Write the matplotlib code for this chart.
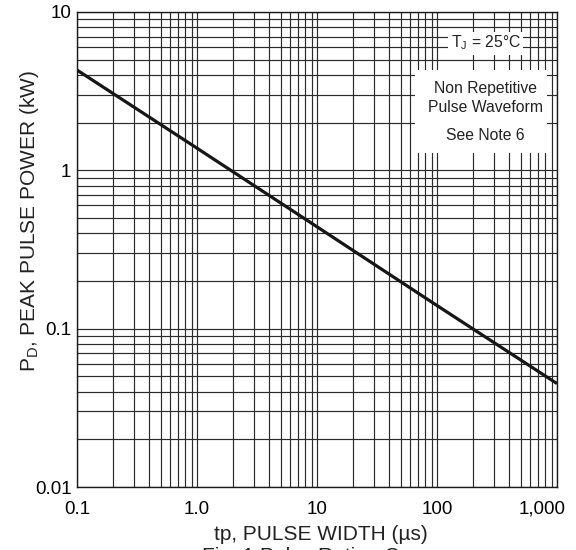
import matplotlib
matplotlib.use("Agg")
import matplotlib.pyplot as plt
import matplotlib.ticker as mticker
import matplotlib.transforms as mtransforms
from matplotlib.patches import Rectangle

plt.rcParams['font.family'] = ['Liberation Sans', 'DejaVu Sans']
plt.rcParams['mathtext.fontset'] = 'custom'
plt.rcParams['mathtext.rm'] = 'Liberation Sans'
plt.rcParams['mathtext.it'] = 'Liberation Sans'

# Pulse rating curve
pulse_width_us = [0.1, 1.0, 10, 100, 1000]
peak_power_kw = [4.3, 1.38, 0.44, 0.14, 0.045]

x_ticks = [0.1, 1.0, 10, 100, 1000]
x_tick_labels = ["0.1", "1.0", "10", "100", "1,000"]
y_ticks = [0.01, 0.1, 1, 10]
y_tick_labels = ["0.01", "0.1", "1", "10"]

grid_color = "#2b2b2b"

fig = plt.figure(figsize=(5.76, 5.5), dpi=100)
ax = fig.add_axes([77 / 576, 63 / 550, 480 / 576, 475 / 550])
ax.set_xscale('log')
ax.set_yscale('log')
ax.set_xlim(0.1, 1000)
ax.set_ylim(0.01, 10)

ax.xaxis.set_major_locator(mticker.FixedLocator(x_ticks))
ax.xaxis.set_major_formatter(mticker.FixedFormatter(x_tick_labels))
ax.yaxis.set_major_locator(mticker.FixedLocator(y_ticks))
ax.yaxis.set_major_formatter(mticker.FixedFormatter(y_tick_labels))
ax.xaxis.set_minor_locator(mticker.LogLocator(base=10, subs=range(2, 10)))
ax.yaxis.set_minor_locator(mticker.LogLocator(base=10, subs=range(2, 10)))
ax.xaxis.set_minor_formatter(mticker.NullFormatter())
ax.yaxis.set_minor_formatter(mticker.NullFormatter())

ax.set_axisbelow(True)
ax.grid(True, which="both", color=grid_color, linewidth=0.85)
ax.tick_params(which="both", length=0)
ax.tick_params(axis="x", labelsize=13.5, pad=10)
ax.tick_params(axis="y", labelsize=13.5, pad=4)
for s in ax.spines.values():
    s.set_color("#1a1a1a")
    s.set_linewidth(1.0)

# the last x label sits left of its gridline so it stays on the page
fig.canvas.draw()
last_lbl = ax.get_xticklabels()[-1]
last_lbl.set_transform(last_lbl.get_transform()
                       + mtransforms.ScaledTranslation(-0.15, 0, fig.dpi_scale_trans))

ax.plot(pulse_width_us, peak_power_kw, color="#161616", linewidth=2.3,
        solid_capstyle="butt", zorder=3)

# white boxes behind the notes (they break the grid in the original)
ax.add_patch(Rectangle((0.773, 0.909), 0.156, 0.049, transform=ax.transAxes,
                       facecolor="white", edgecolor="none", zorder=1))
ax.add_patch(Rectangle((0.705, 0.703), 0.274, 0.175, transform=ax.transAxes,
                       facecolor="white", edgecolor="none", zorder=1))

ax.text(0.853, 0.935, r"T$_{\mathrm{J}}$ = 25°C", transform=ax.transAxes,
        ha="center", va="center", fontsize=11.3, color="#222222", zorder=4)
ax.text(0.85, 0.84, "Non Repetitive", transform=ax.transAxes,
        ha="center", va="center", fontsize=11.3, color="#222222", zorder=4)
ax.text(0.85, 0.80, "Pulse Waveform", transform=ax.transAxes,
        ha="center", va="center", fontsize=11.3, color="#222222", zorder=4)
ax.text(0.85, 0.741, "See Note 6", transform=ax.transAxes,
        ha="center", va="center", fontsize=11.3, color="#222222", zorder=4)

fig.text(321 / 576, 1 - 535 / 550, "tp, PULSE WIDTH (µs)", ha="center",
         va="center", fontsize=15, color="#222222")
fig.text(30 / 576, 1 - 221 / 550, r"P$_{\mathrm{D}}$, PEAK PULSE POWER (kW)",
         ha="center", va="center", rotation=90, fontsize=15, color="#222222")
fig.text(321 / 576, 1 - 547 / 550, "Fig. 1 Pulse Rating Curve", ha="center",
         va="top", fontsize=15, color="#222222")

fig.savefig("out.png", dpi=100)
